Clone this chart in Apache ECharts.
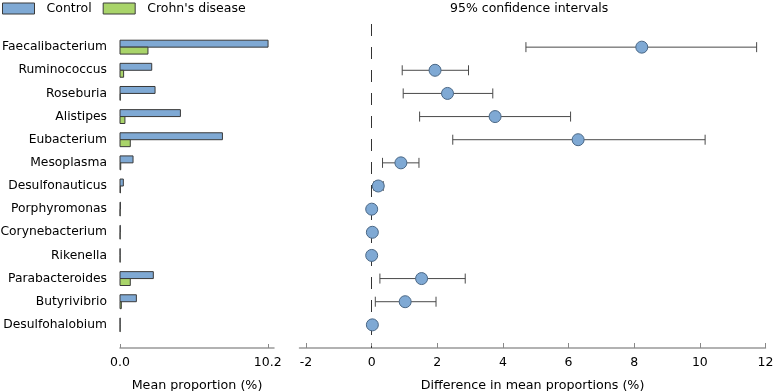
<!DOCTYPE html>
<html>
<head>
<meta charset="utf-8">
<script src="https://cdn.jsdelivr.net/npm/echarts@6/dist/echarts.min.js"></script>
<style>html,body{margin:0;padding:0;background:#fff}#c{width:774px;height:391px}</style>
</head>
<body>
<div id="c"></div>
<script>
var categories = ['Faecalibacterium','Ruminococcus','Roseburia','Alistipes','Eubacterium','Mesoplasma','Desulfonauticus','Porphyromonas','Corynebacterium','Rikenella','Parabacteroides','Butyrivibrio','Desulfohalobium'];
var controlMean = [10.22, 2.19, 2.42, 4.17, 7.07, 0.9, 0.23, 0.03, 0.02, 0.01, 2.3, 1.13, 0.01];
var crohnMean = [1.93, 0.25, 0.02, 0.34, 0.71, 0.05, 0.03, 0.01, 0.01, 0.01, 0.71, 0.09, 0.01];
var diffMean = [8.23, 1.93, 2.31, 3.76, 6.29, 0.89, 0.20, 0.0, 0.02, 0.0, 1.52, 1.02, 0.02];
var ciLow = [4.70, 0.93, 0.96, 1.46, 2.47, 0.33, 0.07, 0.0, 0.02, 0.0, 0.25, 0.11, 0.02];
var ciHigh = [11.73, 2.95, 3.69, 6.06, 10.16, 1.44, 0.35, 0.0, 0.02, 0.0, 2.85, 1.96, 0.02];
var leftTicks = [0, 10.2];
var rightTicks = [-2, 0, 2, 4, 6, 8, 10, 12];

var BLUE = '#7fa9d4', GREEN = '#a9d46a', EDGE = '#3a3a3a';
var FONT = 'DejaVu Sans';

function barRender(offsetSign, color) {
  return function (params, api) {
    var v = api.value(0), idx = api.value(1);
    var p0 = api.coord([0, idx]);
    var p1 = api.coord([v, idx]);
    var h = api.size([0, 1])[1] * 0.3;
    var y = offsetSign < 0 ? p0[1] - h : p0[1];
    return {
      type: 'rect',
      shape: { x: p0[0], y: y, width: p1[0] - p0[0], height: h },
      style: { fill: color, stroke: EDGE, lineWidth: 1 }
    };
  };
}

function errRender(params, api) {
  var idx = api.value(0), lo = api.value(1), hi = api.value(2);
  if (hi - lo < 1e-9) return null;
  var a = api.coord([lo, idx]), b = api.coord([hi, idx]);
  var c = 5;
  var st = { stroke: '#4a4a4a', lineWidth: 1 };
  return {
    type: 'group',
    children: [
      { type: 'line', shape: { x1: a[0], y1: a[1], x2: b[0], y2: b[1] }, style: st },
      { type: 'line', shape: { x1: a[0], y1: a[1] - c, x2: a[0], y2: a[1] + c }, style: st },
      { type: 'line', shape: { x1: b[0], y1: b[1] - c, x2: b[0], y2: b[1] + c }, style: st }
    ]
  };
}

var ctrlData = controlMean.map(function (v, i) { return [v, i]; });
var crohnData = crohnMean.map(function (v, i) { return [v, i]; });
var dotData = diffMean.map(function (v, i) { return [v, i]; });
var errData = ciLow.map(function (v, i) { return [i, v, ciHigh[i]]; });

var yBase = { type: 'value', inverse: true, min: -1, max: 13, interval: 1,
  axisLine: { show: false }, axisTick: { show: false }, splitLine: { show: false } };

var chart = echarts.init(document.getElementById('c'));
chart.setOption({
  animation: false,
  textStyle: { fontFamily: FONT },
  title: {
    text: '95% confidence intervals', left: 450, top: 2, padding: 0,
    textStyle: { fontFamily: FONT, fontSize: 12.5, fontWeight: 'normal', color: '#000' }
  },
  legend: {
    left: 2, top: 2, padding: 0, itemWidth: 32, itemHeight: 11, itemGap: 11, icon: 'rect',
    textStyle: { fontFamily: FONT, fontSize: 12.5, color: '#000', padding: [0, 0, 0, 7] },
    data: [
      { name: 'Control', itemStyle: { color: BLUE, borderColor: EDGE, borderWidth: 1 } },
      { name: "Crohn's disease", itemStyle: { color: GREEN, borderColor: EDGE, borderWidth: 1 } }
    ]
  },
  grid: [
    { left: 120, width: 154, top: 24, bottom: 43, outerBoundsMode: 'none', containLabel: false },
    { left: 299.5, width: 466, top: 24, bottom: 43, outerBoundsMode: 'none', containLabel: false }
  ],
  xAxis: [
    { type: 'value', gridIndex: 0, min: 0, max: 10.63, position: 'bottom',
      axisLine: { onZero: false, lineStyle: { color: '#999', width: 1.5 } },
      axisTick: { inside: true, length: 4, customValues: leftTicks, lineStyle: { color: '#888' } },
      axisLabel: { customValues: leftTicks, formatter: function (v) { return v.toFixed(1); }, color: '#000', fontSize: 12.5, margin: 8, fontFamily: FONT },
      splitLine: { show: false },
      name: 'Mean proportion (%)', nameLocation: 'middle', nameGap: 31,
      nameTextStyle: { color: '#000', fontSize: 12.7, fontFamily: FONT }
    },
    { type: 'value', gridIndex: 1, min: -2.2, max: 12, position: 'bottom',
      axisLine: { onZero: false, lineStyle: { color: '#999', width: 1.5 } },
      axisTick: { inside: true, length: 5, customValues: rightTicks, lineStyle: { color: '#888' } },
      axisLabel: { customValues: rightTicks, color: '#000', fontSize: 12.5, margin: 8, fontFamily: FONT },
      splitLine: { show: false },
      name: 'Difference in mean proportions (%)', nameLocation: 'middle', nameGap: 31,
      nameTextStyle: { color: '#000', fontSize: 12.7, fontFamily: FONT }
    }
  ],
  yAxis: [
    Object.assign({}, yBase, { gridIndex: 0,
      axisLabel: { color: '#000', fontSize: 12.3, margin: 13, fontFamily: FONT,
        formatter: function (v) { return categories[v] || ''; } } }),
    Object.assign({}, yBase, { gridIndex: 1, axisLabel: { show: false } })
  ],
  series: [
    { name: 'Control', type: 'custom', xAxisIndex: 0, yAxisIndex: 0, data: ctrlData,
      itemStyle: { color: BLUE }, renderItem: barRender(-1, BLUE), encode: { x: 0, y: 1 } },
    { name: "Crohn's disease", type: 'custom', xAxisIndex: 0, yAxisIndex: 0, data: crohnData,
      itemStyle: { color: GREEN }, renderItem: barRender(1, GREEN), encode: { x: 0, y: 1 } },
    { name: 'CI', type: 'custom', xAxisIndex: 1, yAxisIndex: 1, data: errData,
      renderItem: errRender, encode: { x: [1, 2], y: 0 }, z: 2 },
    { name: 'Difference', type: 'scatter', xAxisIndex: 1, yAxisIndex: 1, data: dotData,
      symbolSize: 12, itemStyle: { color: BLUE, borderColor: '#4a6785', borderWidth: 1, opacity: 1 }, z: 5,
      markLine: { silent: true, symbol: 'none', label: { show: false },
        lineStyle: { type: [12, 11], color: '#333', width: 1 },
        data: [{ xAxis: 0 }] } }
  ]
});
</script>
</body>
</html>
